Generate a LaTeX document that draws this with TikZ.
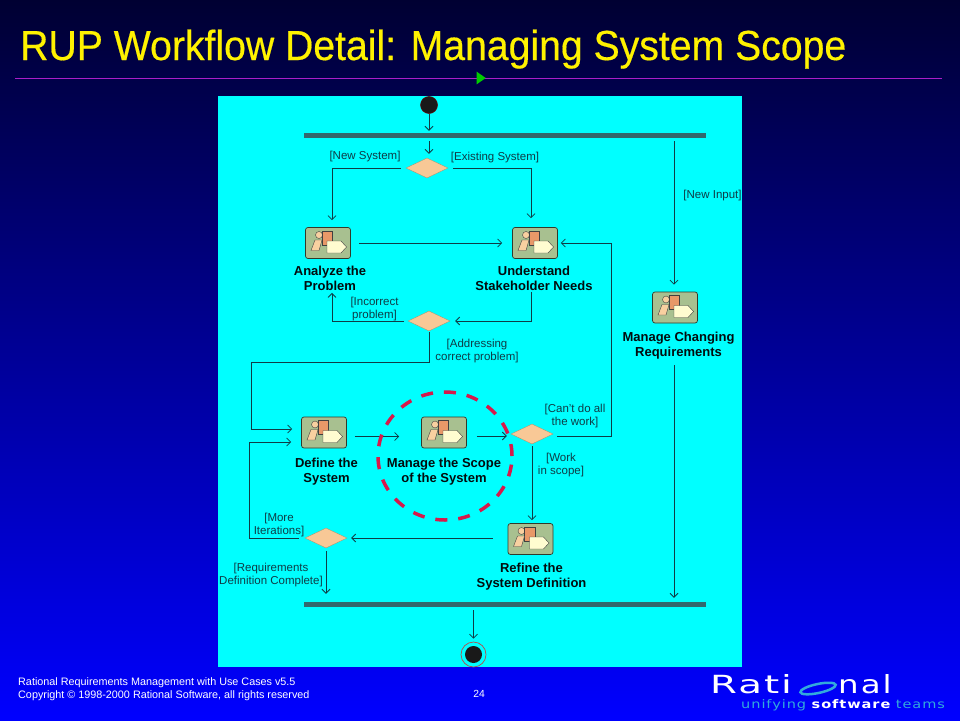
\documentclass[tikz,border=0pt]{standalone}
\usepackage{fontspec}
\setmainfont{Liberation Sans}
\newfontfamily\logofont[FakeStretch=1.3,LetterSpace=8]{DejaVu Sans}
\newfontfamily\logowide[FakeStretch=1.55,LetterSpace=8]{DejaVu Sans}
\newfontfamily\logosmall[FakeStretch=1.23,LetterSpace=8]{DejaVu Sans}
\usetikzlibrary{arrows.meta,shapes.geometric}
\definecolor{panelcyan}{RGB}{0,255,255}
\definecolor{flowline}{RGB}{15,60,70}
\definecolor{barteal}{RGB}{50,105,110}
\definecolor{diamondfill}{RGB}{248,200,150}
\definecolor{iconsage}{RGB}{168,192,144}
\definecolor{iconorange}{RGB}{232,152,104}
\definecolor{iconpeach}{RGB}{248,208,160}
\definecolor{iconcream}{RGB}{255,252,208}
\definecolor{scopered}{RGB}{215,25,75}
\definecolor{logoblue}{RGB}{50,170,220}
\tikzset{
  flow/.style={draw=flowline, line width=0.8pt, ->, >={Straight Barb[length=4pt,width=8pt]}},
  syncbar/.style={fill=barteal, minimum width=402pt, minimum height=5pt, inner sep=0pt},
  decision/.style={diamond, draw=diamondfill!70!black, line width=0.3pt, fill=diamondfill, minimum width=42pt, minimum height=20pt, inner sep=0pt, aspect=2.1},
  guard/.style={align=center, text=flowline, font=\fontsize{11.5}{13.5}\selectfont, inner sep=0pt},
  caption/.style={align=center, text=black!80!flowline, font=\fontsize{13}{14.8}\selectfont\bfseries, inner sep=0pt},
  activity/.style={draw=black!70!iconsage, line width=0.7pt, fill=iconsage, rounded corners=2.5pt, minimum width=45pt, minimum height=31pt, inner sep=0pt,
    path picture={
      \begin{scope}[shift={(path picture bounding box.center)}, draw=black!75, line width=0.4pt, sharp corners]
        \filldraw[fill=iconpeach] (-9,-8) circle (3.5);
        \filldraw[fill=iconorange] (-6,-12) -- (4.5,-12) -- (4.5,2) -- (-6,2) -- cycle;
        \filldraw[fill=iconpeach] (-17,7.5) -- (-13,-3) -- (-6,-3) -- (-9,7.5) -- cycle;
        \filldraw[fill=iconcream] (-1,-2) -- (13,-2) -- (18.5,4) -- (13,10) -- (-1,10) -- cycle;
      \end{scope}
    }},
}
\begin{document}
\begin{tikzpicture}[x=1pt,y=-1pt]
\useasboundingbox (0,0) rectangle (960,720);
\shade[top color={rgb,255:red,0;green,0;blue,50}, bottom color={rgb,255:red,0;green,0;blue,255}] (0,0) rectangle (960,720);

\node[text=yellow, font=\fontsize{42}{42}\selectfont, anchor=base west, inner sep=0pt] (title) at (20,60) {\addfontfeature{FakeStretch=0.933,FakeBold=0.4}RUP Workflow Detail: Managing System Scope};
\coordinate (ruleleft) at (15,78);
\coordinate (ruleright) at (942,78);
\draw[draw={rgb,255:red,170;green,30;blue,200}, line width=0.8pt] (ruleleft) -- (ruleright);
\node[isosceles triangle, fill=green!80!black, minimum height=9pt, minimum width=11pt, inner sep=0pt, isosceles triangle apex angle=70] (marker) at (480,78) {};

\fill[panelcyan] (218,96) rectangle (742,667);

\node[circle, fill=black!90, draw=red!40!black, line width=0.5pt, minimum size=17pt, inner sep=0pt] (start) at (429,105) {};
\node[syncbar] (topbar) at (505,135.5) {};
\node[syncbar] (bottombar) at (505,604.5) {};
\node[circle, draw=red!40!gray, line width=0.7pt, minimum size=25pt, inner sep=0pt] (stopring) at (473.5,654.5) {};
\node[circle, fill=black!90, minimum size=17pt, inner sep=0pt] (stop) at (473.5,654.5) {};

\node[decision] (dsystem) at (427,168) {};
\node[decision] (dproblem) at (429,321) {};
\node[decision] (dwork) at (532,434) {};
\node[decision] (dmore) at (326,538) {};

\node[activity] (analyze) at (328,243) {};
\node[activity] (understand) at (535,243) {};
\node[activity] (changing) at (675,307.5) {};
\node[activity] (define) at (324,432.5) {};
\node[activity] (scope) at (444,432.5) {};
\node[activity] (refine) at (530.5,539) {};

\node[caption] (analyzetext) at (330,278.5) {Analyze the\\Problem};
\node[caption] (understandtext) at (534,278.5) {Understand\\Stakeholder Needs};
\node[caption] (changingtext) at (678.5,345.5) {Manage Changing\\Requirements};
\node[caption] (definetext) at (326.5,472) {Define the\\System};
\node[caption] (scopetext) at (444,472) {Manage the Scope\\of the System};
\node[caption] (refinetext) at (531.5,576.5) {Refine the\\System Definition};

\node[guard] (gnew) at (365,157) {[New System]};
\node[guard] (gexisting) at (495,158) {[Existing System]};
\node[guard] (ginput) at (712.5,195.5) {[New Input]};
\node[guard] (gincorrect) at (374.5,309) {[Incorrect\\problem]};
\node[guard] (gaddress) at (477,351) {[Addressing\\correct problem]};
\node[guard] (gcant) at (575,416) {[Can't do all\\the work]};
\node[guard] (gwork) at (561,465) {[Work\\in scope]};
\node[guard] (gmore) at (279,525) {[More\\Iterations]};
\node[guard] (gdone) at (271,575) {[Requirements\\Definition Complete]};

\draw[flow] (start.south) -- ([yshift=2pt]start.south |- topbar.north);
\draw[flow] ([yshift=-3pt]topbar.south -| start.south) -- ([xshift=2pt,yshift=4pt]dsystem.north);
\draw[flow] ([xshift=-5pt]dsystem.west) -| ([yshift=7pt]analyze.north -| 332,0);
\draw[flow] ([xshift=5pt]dsystem.east) -| ([yshift=9pt]understand.north -| 531,0);
\draw[flow] ([xshift=8pt]analyze.east) -- ([xshift=-10pt]understand.west);
\draw[flow] ([yshift=-1pt]understandtext.south -| 531,0) |- ([xshift=5pt]dproblem.east);
\draw[flow] ([xshift=-4pt]dproblem.west) -| ([yshift=-2pt]analyzetext.south -| 332,0);
\draw[flow] ([yshift=-1pt]dproblem.south) |- (251,362) |- ([xshift=-9pt,yshift=3.5pt]define.west);
\draw[flow] ([xshift=8pt,yshift=-4pt]define.east) -- ([xshift=-22pt,yshift=-4pt]scope.west);
\draw[flow] ([xshift=10pt,yshift=-3.5pt]scope.east) -- ([xshift=-4pt,yshift=-2pt]dwork.west);
\draw[flow] ([xshift=4pt,yshift=-2pt]dwork.east) -| (611,243) -- ([xshift=3pt]understand.east);
\draw[flow] ([yshift=-2pt]dwork.south) -- ([xshift=1.5pt,yshift=3pt]refine.north);
\draw[flow] ([xshift=-15pt]refine.west |- dmore.east) -- ([xshift=4pt]dmore.east);
\draw[flow,-] ([xshift=-6pt]dmore.west) -| (249,442);
\draw[flow] (249,442) -- ([xshift=-10pt,yshift=-9.5pt]define.west);
\draw[flow] ([yshift=-3pt]dmore.south) -- ([yshift=8pt]bottombar.north -| dmore.south);
\draw[flow] ([xshift=-1pt,yshift=-3pt]topbar.south -| changing.north) -- ([xshift=-1pt,yshift=7pt]changing.north);
\draw[flow] ([xshift=-1pt,yshift=-6pt]changingtext.south -| changing.north) -- ([xshift=-1pt,yshift=4pt]bottombar.north -| changing.north);
\draw[flow] ([yshift=-3pt]bottombar.south -| stop.north) -- ([yshift=3pt]stopring.north);

\node[draw=scopered, line cap=butt, line width=3.5pt, dash pattern=on 12pt off 11pt, ellipse, minimum width=134pt, minimum height=128pt, inner sep=0pt] (scopering) at (445,456) {};

\node[text=white, font=\fontsize{10.8}{13}\selectfont, align=left, anchor=north west, inner sep=0pt] (footer) at (18,677) {Rational Requirements Management with Use Cases v5.5\\Copyright \textcopyright\ 1998-2000 Rational Software, all rights reserved};
\node[text=white, font=\fontsize{10.3}{13}\selectfont, inner sep=0pt] (pagenum) at (479,694) {24};

\node[text=white, font=\logowide\fontsize{25}{25}\selectfont, anchor=base west, inner sep=0pt] (logoleft) at (710,693.5) {Rati};
\node[ellipse, draw=logoblue, line width=2.5pt, minimum width=36pt, minimum height=9pt, inner sep=0pt, rotate=12] (logoo) at (818,688.5) {};
\node[text=white, font=\logofont\fontsize{25}{25}\selectfont, anchor=base west, inner sep=0pt] (logoright) at (838,693.5) {nal};
\node[text=logoblue, font=\logosmall\fontsize{11.8}{12}\selectfont, anchor=base west, inner sep=0pt] (logounify) at (741,708) {unifying \textcolor{white}{\bfseries software} teams};
\end{tikzpicture}
\end{document}
